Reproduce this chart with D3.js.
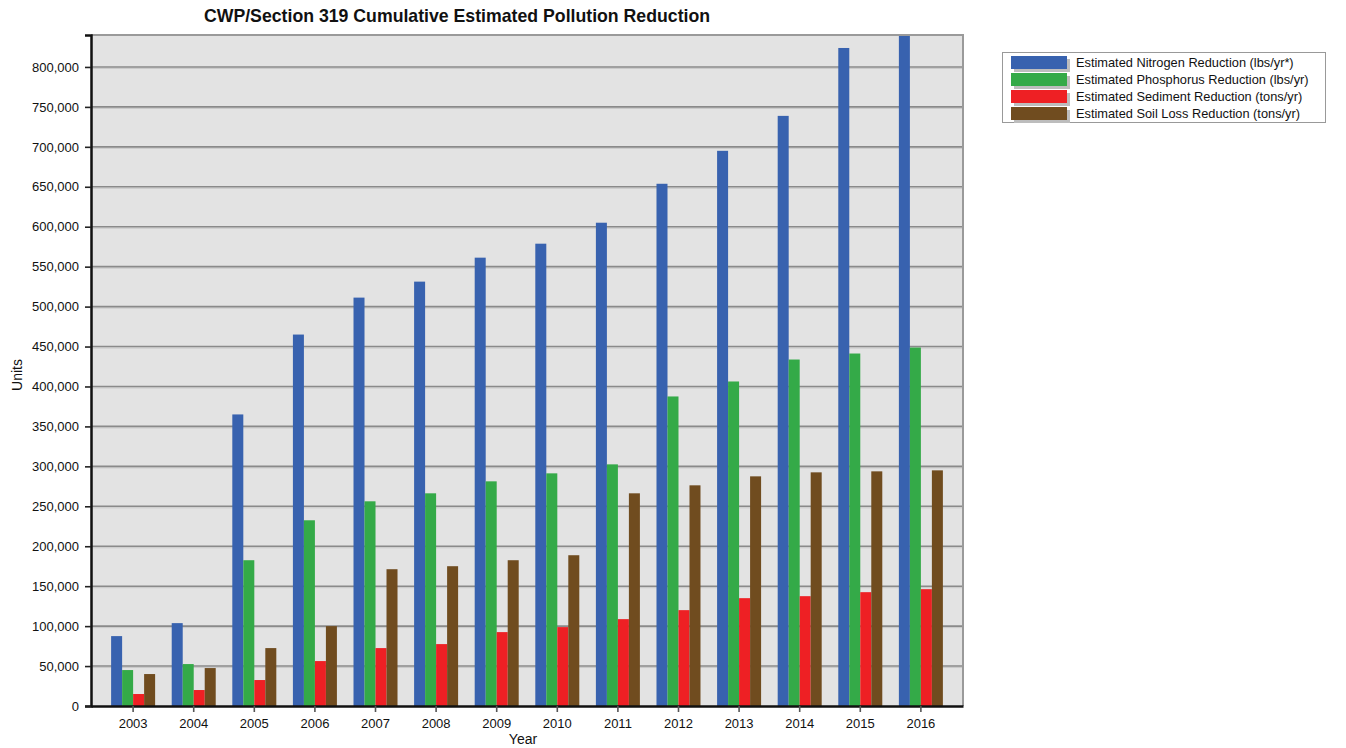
<!DOCTYPE html>
<html>
<head>
<meta charset="utf-8">
<script src="https://cdn.jsdelivr.net/npm/d3@7"></script>
<style>
  body { margin: 0; background: #fff; }
  text { font-family: "Liberation Sans", Arial, sans-serif; fill: #111; }
</style>
</head>
<body>
<div id="chart"></div>
<script>
// data
var years = ["2003", "2004", "2005", "2006", "2007", "2008", "2009", "2010",
             "2011", "2012", "2013", "2014", "2015", "2016"];
var nitrogen = [87500, 103750, 365000, 465000, 511250, 531250, 561250, 578750,
                605000, 653750, 695000, 738750, 823750, 840000];
var phosphorus = [45000, 52500, 182500, 232500, 256250, 266250, 281250, 291250,
                  302500, 387500, 406250, 433750, 441250, 448750];
var sediment = [15000, 20000, 32500, 56250, 72500, 77500, 92500, 98750,
                108750, 120000, 135000, 137500, 142500, 146250];
var soilLoss = [40000, 47500, 72500, 100000, 171250, 175000, 182500, 188750,
                266250, 276250, 287500, 292500, 293750, 295000];
var seriesNames = ["Estimated Nitrogen Reduction (lbs/yr*)",
                   "Estimated Phosphorus Reduction (lbs/yr)",
                   "Estimated Sediment Reduction (tons/yr)",
                   "Estimated Soil Loss Reduction (tons/yr)"];
var yTicks = [0, 50000, 100000, 150000, 200000, 250000, 300000, 350000, 400000,
              450000, 500000, 550000, 600000, 650000, 700000, 750000, 800000];

var colors = ["#3862af", "#34aa48", "#ee2024", "#704c1f"];
var seriesValues = [nitrogen, phosphorus, sediment, soilLoss];

var W = 1346, H = 748;
var plot = {left: 91, right: 963, top: 35, bottom: 706};

var svg = d3.select("#chart").append("svg")
    .attr("width", W)
    .attr("height", H);

var x0 = d3.scaleBand()
    .domain(years)
    .range([plot.left, plot.right])
    .paddingOuter(0.195);

var x1 = d3.scaleBand()
    .domain(d3.range(seriesValues.length))
    .range([-22, 22]);

var y = d3.scaleLinear()
    .domain([0, 840000])
    .range([plot.bottom, plot.top]);

// plot background
svg.append("rect")
    .attr("x", plot.left)
    .attr("y", plot.top)
    .attr("width", plot.right - plot.left)
    .attr("height", plot.bottom - plot.top)
    .attr("fill", "#e3e3e3");

// grid lines (dark line with light line under it)
var grid = svg.append("g");
yTicks.filter(function (d) { return d > 0; }).forEach(function (t) {
    grid.append("line")
        .attr("x1", plot.left).attr("x2", plot.right)
        .attr("y1", y(t) + 1.5).attr("y2", y(t) + 1.5)
        .attr("stroke", "#c9c9c9").attr("stroke-width", 1);
    grid.append("line")
        .attr("x1", plot.left).attr("x2", plot.right)
        .attr("y1", y(t)).attr("y2", y(t))
        .attr("stroke", "#8a8a8a").attr("stroke-width", 1.6);
});

// bars
svg.append("clipPath").attr("id", "plotclip")
    .append("rect")
    .attr("x", plot.left).attr("y", plot.top)
    .attr("width", plot.right - plot.left)
    .attr("height", plot.bottom - plot.top);

var bars = svg.append("g").attr("clip-path", "url(#plotclip)");
years.forEach(function (yr, i) {
    var cx = x0(yr) + x0.bandwidth() / 2;
    seriesValues.forEach(function (vals, s) {
        bars.append("rect")
            .attr("x", cx + x1(s))
            .attr("y", y(vals[i]))
            .attr("width", x1.bandwidth())
            .attr("height", y(0) - y(vals[i]))
            .attr("fill", colors[s]);
    });
});

// top and right frame
svg.append("path")
    .attr("d", "M" + plot.left + "," + plot.top + "H" + plot.right + "V" + plot.bottom)
    .attr("fill", "none")
    .attr("stroke", "#9a9a9a")
    .attr("stroke-width", 2);

// y axis
var yAxis = svg.append("g")
    .attr("transform", "translate(" + plot.left + ",0)")
    .call(d3.axisLeft(y).tickValues(yTicks).tickSize(6).tickPadding(6)
        .tickFormat(d3.format(",")));
yAxis.select(".domain").attr("stroke", "#111").attr("stroke-width", 2.5);
yAxis.selectAll(".tick line").attr("stroke", "#222").attr("stroke-width", 1.6);
yAxis.selectAll(".tick text")
    .style("font-family", "'Liberation Sans', Arial, sans-serif")
    .style("font-size", "13px")
    .attr("fill", "#111");

// x axis
var xAxis = svg.append("g")
    .attr("transform", "translate(0," + plot.bottom + ")")
    .call(d3.axisBottom(x0).tickSize(6).tickPadding(7).tickSizeOuter(0));
xAxis.select(".domain").attr("stroke", "#111").attr("stroke-width", 2.5);
xAxis.selectAll(".tick line").attr("stroke", "#555").attr("stroke-width", 1.6);
xAxis.selectAll(".tick text")
    .style("font-family", "'Liberation Sans', Arial, sans-serif")
    .style("font-size", "13px")
    .attr("fill", "#111");

// axis titles
svg.append("text")
    .attr("x", (plot.left + plot.right) / 2 - 4)
    .attr("y", 744)
    .attr("text-anchor", "middle")
    .style("font-size", "14px")
    .text("Year");

svg.append("text")
    .attr("transform", "translate(22,375) rotate(-90)")
    .attr("text-anchor", "middle")
    .style("font-size", "14px")
    .text("Units");

// chart title
svg.append("text")
    .attr("x", 457)
    .attr("y", 22)
    .attr("text-anchor", "middle")
    .style("font-size", "17.7px")
    .style("font-weight", "bold")
    .text("CWP/Section 319 Cumulative Estimated Pollution Reduction");

// legend
var legend = svg.append("g");
legend.append("rect")
    .attr("x", 1002.5).attr("y", 52.5)
    .attr("width", 323).attr("height", 70)
    .attr("fill", "#fff")
    .attr("stroke", "#999")
    .attr("stroke-width", 1);

seriesNames.forEach(function (name, i) {
    var ry = 56 + i * 17;
    legend.append("rect")
        .attr("x", 1014).attr("y", ry + 3)
        .attr("width", 56).attr("height", 13)
        .attr("fill", "#bdbdbd");
    legend.append("rect")
        .attr("x", 1011).attr("y", ry)
        .attr("width", 56).attr("height", 13)
        .attr("fill", colors[i]);
    legend.append("text")
        .attr("x", 1076)
        .attr("y", ry + 6.5)
        .attr("dy", "0.35em")
        .style("font-size", "12.8px")
        .text(name);
});
</script>
</body>
</html>
